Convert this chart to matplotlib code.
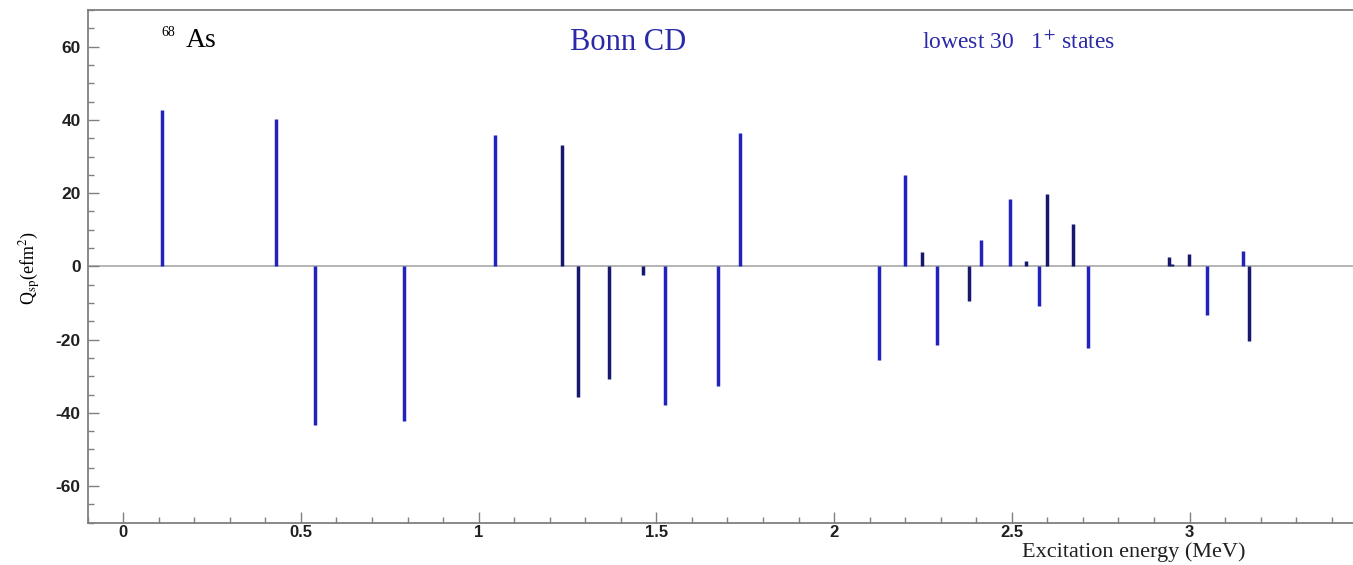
import matplotlib.pyplot as plt
from matplotlib.ticker import MultipleLocator

plt.rcParams["mathtext.fontset"] = "stix"
plt.rcParams["axes.unicode_minus"] = False

# excitation energies (MeV) of the lowest 30 1+ states and their Q_sp (e fm^2)
energy = [0.11, 0.43, 0.54, 0.79, 1.046, 1.235, 1.28, 1.367, 1.463, 1.525,
          1.674, 1.736, 2.127, 2.20, 2.246, 2.29, 2.381, 2.414, 2.496, 2.54,
          2.577, 2.598, 2.671, 2.714, 2.942, 2.952, 2.998, 3.048, 3.15, 3.167]
qsp = [42.7, 40.3, -43.4, -42.3, 35.9, 33.2, -35.8, -30.7, -2.3, -37.8,
       -32.7, 36.4, -25.5, 25.0, 3.8, -21.4, -9.5, 7.3, 18.5, 1.4,
       -10.7, 19.7, 11.6, -22.4, 2.7, 0.6, 3.4, -13.4, 4.1, -20.5]
shade = [0, 0, 0, 0, 0, 1, 1, 1, 1, 0,
         0, 0, 0, 0, 1, 0, 1, 0, 0, 1,
         0, 1, 1, 0, 1, 1, 1, 0, 0, 1]
xticks = [0, 0.5, 1, 1.5, 2, 2.5, 3]
xticklabels = ["0", "0.5", "1", "1.5", "2", "2.5", "3"]

blue = "#2222bc"
navy = "#17176e"
colors = [navy if s else blue for s in shade]

fig = plt.figure(figsize=(13.53, 5.65), dpi=100)
ax = fig.add_axes([0.0648, 0.075, 0.9352, 0.907])

ax.axhline(0, color="#a8a8a8", lw=1.2, zorder=1)
ax.vlines(energy, 0, qsp, colors=colors, lw=2.5, zorder=2)

ax.set_xlim(-0.1, 3.46)
ax.set_ylim(-70, 70)

ax.set_xticks(xticks)
ax.set_xticklabels(xticklabels)
ax.xaxis.set_minor_locator(MultipleLocator(0.1))
ax.yaxis.set_major_locator(MultipleLocator(20))
ax.yaxis.set_minor_locator(MultipleLocator(5))

for s in ["left", "bottom", "top"]:
    ax.spines[s].set_color("#808080")
    ax.spines[s].set_linewidth(1.3)
ax.spines["right"].set_visible(False)

ax.tick_params(which="both", direction="in", color="#808080", width=1.0,
               labelsize=12.5, labelcolor="#202020", top=False, right=False)
ax.tick_params(which="major", length=8)
ax.tick_params(which="minor", length=4)
ax.tick_params(axis="y", which="major", pad=5)
ax.tick_params(axis="x", which="major", pad=2, labelsize=12)
for lab in ax.get_xticklabels() + ax.get_yticklabels():
    lab.set_fontfamily("Liberation Sans")
    lab.set_fontweight("bold")

serif = "Liberation Serif"
fig.text(161, 565 - 36, "68", fontsize=10, family=serif, transform=None)
fig.text(186, 565 - 47, "As", fontsize=20, family=serif, transform=None)
fig.text(570, 565 - 50, "Bonn CD", fontsize=22, family=serif, color="#2a2aa8",
         transform=None)
fig.text(922, 565 - 49, r"lowest 30   1$^{+}$ states", fontsize=17,
         family=serif, color="#2a2aa8", transform=None)

fig.text(1134, 3, "Excitation energy (MeV)", fontsize=16,
         family=serif, color="#202020", ha="center", va="bottom",
         transform=None)
fig.text(30, 565 - 268, r"Q$_{\rm sp}$(efm$^{2}$)", rotation=90, fontsize=13,
         family=serif, ha="center", va="center", transform=None)

fig.savefig("out.png", dpi=100)
